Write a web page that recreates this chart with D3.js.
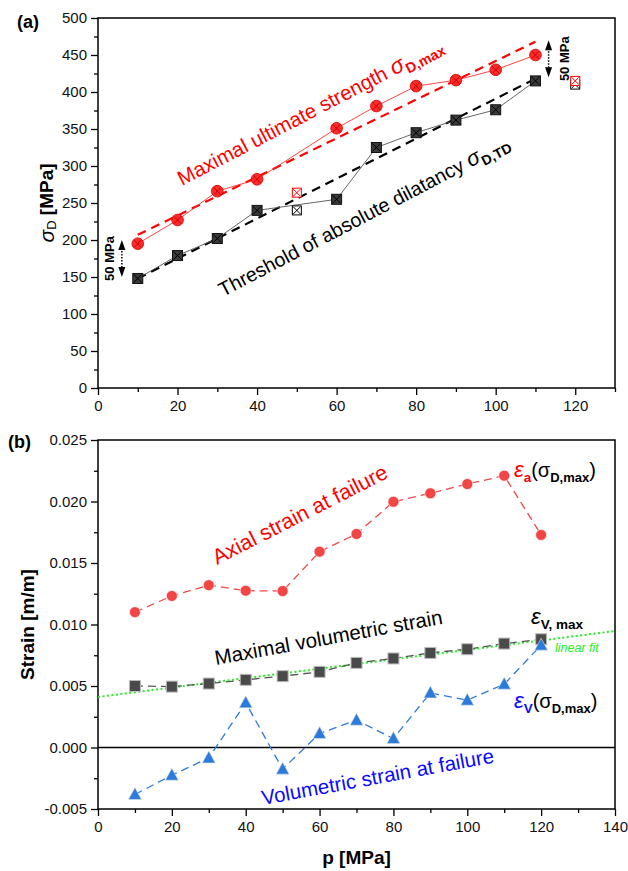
<!DOCTYPE html>
<html>
<head>
<meta charset="utf-8">
<script src="https://cdn.jsdelivr.net/npm/d3@7"></script>
<style>
  body { margin: 0; background: #fff; }
  svg { font-family: "Liberation Sans", Arial, sans-serif; }
</style>
</head>
<body>
<div id="chart"></div>
<script>
// ---- panel (a) data ----
const pMain = [10, 20, 30, 40, 60, 70, 80, 90, 100, 110];
const sigmaMax = [195, 227, 266, 282, 351, 381, 408, 416, 430, 450];
const sigmaTD = [148, 179, 202, 240, 255, 325, 345, 362, 376, 415];
const pOut = [50, 120];
const sigmaMaxOut = [264, 415];
const sigmaTDOut = [240, 410];
const fitP = [10, 110];
const fitMax = [207, 468];
const fitTD = [148, 418];
const arrowP = [6, 113.3];
const arrowLo = [150, 420];
const arrowHi = [200, 470];

// ---- panel (b) data ----
const pB = [10, 20, 30, 40, 50, 60, 70, 80, 90, 100, 110, 120];
const axialStrain = [0.0110, 0.01232, 0.0132, 0.01275, 0.01272, 0.01592, 0.01736, 0.01998, 0.02067, 0.02142, 0.0221, 0.01728];
const volMaxStrain = [0.0050, 0.00495, 0.0052, 0.0055, 0.0058, 0.00615, 0.00688, 0.00724, 0.00769, 0.00799, 0.00845, 0.0088];
const volFailStrain = [-0.00382, -0.00225, -0.00085, 0.00363, -0.00176, 0.00114, 0.00222, 0.00073, 0.00444, 0.00385, 0.00515, 0.00832];
const linFitP = [0, 140];
const linFitVals = [0.00411, 0.00947];

const width = 628, height = 871;
const svg = d3.select('#chart').append('svg')
  .attr('width', width)
  .attr('height', height);

const left = 98, right = 615;

// scales
const xA = d3.scaleLinear().domain([0, 130]).range([left, right]);
const yA = d3.scaleLinear().domain([0, 500]).range([388, 18]);
const xB = d3.scaleLinear().domain([0, 140]).range([left, right]);
const yB = d3.scaleLinear().domain([-0.005, 0.025]).range([809, 440]);

const hyphen = s => s.replace('\u2212', '-');

function frame(x, y) {
  svg.append('rect')
    .attr('x', x.range()[0]).attr('y', y.range()[1])
    .attr('width', x.range()[1] - x.range()[0])
    .attr('height', y.range()[0] - y.range()[1])
    .attr('fill', 'none').attr('stroke', '#000').attr('stroke-width', 1.5);
}

function axes(x, y, xMajor, xMinor, yMajor, yMinor, yFmt) {
  const gx = svg.append('g').attr('transform', `translate(0,${y.range()[0]})`);
  gx.call(d3.axisBottom(x).tickValues(xMinor).tickSize(4).tickFormat(''));
  gx.call(g => g.select('.domain').remove());
  const gx2 = svg.append('g').attr('transform', `translate(0,${y.range()[0]})`);
  gx2.call(d3.axisBottom(x).tickValues(xMajor).tickSize(7).tickPadding(5).tickFormat(d3.format('d')));
  gx2.select('.domain').remove();

  const gy = svg.append('g').attr('transform', `translate(${x.range()[0]},0)`);
  gy.call(d3.axisLeft(y).tickValues(yMinor).tickSize(4).tickFormat(''));
  gy.select('.domain').remove();
  const gy2 = svg.append('g').attr('transform', `translate(${x.range()[0]},0)`);
  gy2.call(d3.axisLeft(y).tickValues(yMajor).tickSize(7).tickPadding(4).tickFormat(yFmt));
  gy2.select('.domain').remove();

  svg.selectAll('.tick line').attr('stroke-width', 1.3);
  svg.selectAll('.tick text').attr('font-size', 15).attr('fill', '#111')
    .attr('font-family', '"Liberation Sans", Arial, sans-serif');
}

// ================= panel (a) =================
axes(xA, yA,
  d3.range(0, 121, 20), d3.range(10, 131, 20),
  d3.range(0, 501, 50), d3.range(25, 500, 50),
  d3.format('d'));
frame(xA, yA);

// fit lines
const fitLine = (vals) => d3.line().x((d, i) => xA(fitP[i])).y(d => yA(d))(vals);
svg.append('path').attr('d', fitLine(fitMax))
  .attr('fill', 'none').attr('stroke', '#ff0000').attr('stroke-width', 2.2)
  .attr('stroke-dasharray', '9,6');
svg.append('path').attr('d', fitLine(fitTD))
  .attr('fill', 'none').attr('stroke', '#000').attr('stroke-width', 2.2)
  .attr('stroke-dasharray', '9,6');

// data lines
const lineA = d3.line().x((d, i) => xA(pMain[i])).y(d => yA(d));
svg.append('path').attr('d', lineA(sigmaMax))
  .attr('fill', 'none').attr('stroke', '#ff3030').attr('stroke-width', 0.9);
svg.append('path').attr('d', lineA(sigmaTD))
  .attr('fill', 'none').attr('stroke', '#555').attr('stroke-width', 0.9);

function crossMark(g, cx, cy, r, color, w) {
  g.append('line').attr('x1', cx - r).attr('y1', cy - r).attr('x2', cx + r).attr('y2', cy + r)
    .attr('stroke', color).attr('stroke-width', w);
  g.append('line').attr('x1', cx - r).attr('y1', cy + r).attr('x2', cx + r).attr('y2', cy - r)
    .attr('stroke', color).attr('stroke-width', w);
}

// filled markers
const gm = svg.append('g');
sigmaTD.forEach((v, i) => {
  const cx = xA(pMain[i]), cy = yA(v);
  gm.append('rect').attr('x', cx - 5).attr('y', cy - 5).attr('width', 10).attr('height', 10)
    .attr('fill', '#3a3a3a').attr('stroke', '#111').attr('stroke-width', 1);
  crossMark(gm, cx, cy, 4, '#000', 1);
});
sigmaMax.forEach((v, i) => {
  const cx = xA(pMain[i]), cy = yA(v);
  gm.append('circle').attr('cx', cx).attr('cy', cy).attr('r', 5.8)
    .attr('fill', '#ff2a2a').attr('stroke', '#e01010').attr('stroke-width', 1);
  crossMark(gm, cx, cy, 3.7, '#c00000', 1);
});

// open outlier markers
sigmaTDOut.forEach((v, i) => {
  const cx = xA(pOut[i]), cy = yA(v);
  gm.append('rect').attr('x', cx - 4.5).attr('y', cy - 4.5).attr('width', 9).attr('height', 9)
    .attr('fill', '#fff').attr('stroke', '#000').attr('stroke-width', 1);
  crossMark(gm, cx, cy, 3.6, '#000', 1);
});
sigmaMaxOut.forEach((v, i) => {
  const cx = xA(pOut[i]), cy = yA(v);
  gm.append('rect').attr('x', cx - 4.5).attr('y', cy - 4.5).attr('width', 9).attr('height', 9)
    .attr('fill', '#fff').attr('stroke', '#ff0000').attr('stroke-width', 1);
  crossMark(gm, cx, cy, 3.6, '#ff0000', 1);
});

// 50 MPa arrows
arrowP.forEach((p, i) => {
  const x = xA(p), y0 = yA(arrowHi[i]), y1 = yA(arrowLo[i]);
  svg.append('line').attr('x1', x).attr('x2', x).attr('y1', y0 + 8).attr('y2', y1 - 8)
    .attr('stroke', '#000').attr('stroke-width', 1.5).attr('stroke-dasharray', '1.5,1.5');
  svg.append('path').attr('d', `M${x},${y0} L${x - 3.5},${y0 + 10} L${x + 3.5},${y0 + 10} Z`).attr('fill', '#000');
  svg.append('path').attr('d', `M${x},${y1} L${x - 3.5},${y1 - 10} L${x + 3.5},${y1 - 10} Z`).attr('fill', '#000');
  const tx = i === 0 ? x - 12 : x + 16;
  svg.append('text')
    .attr('transform', `translate(${tx},${(y0 + y1) / 2}) rotate(-90)`)
    .attr('text-anchor', 'middle').attr('dominant-baseline', 'central')
    .attr('font-size', 13).attr('font-weight', 'bold').text('50 MPa');
});

// rotated annotations
function sigmaText(x, y, angle, size, color, main, sub) {
  const t = svg.append('text')
    .attr('transform', `translate(${x},${y}) rotate(${angle})`)
    .attr('font-size', size).attr('fill', color);
  t.append('tspan').text(main);
  t.append('tspan').attr('font-style', 'italic').attr('font-size', size * 1.1).text('σ');
  t.append('tspan').attr('font-weight', 'bold').attr('font-size', size * 0.7).attr('dy', size * 0.25).text(sub);
}
sigmaText(182, 186, -27.5, 20.5, '#ff0000', 'Maximal ultimate strength ', 'D,max');
sigmaText(223, 297, -27.6, 19.8, '#000', 'Threshold of absolute dilatancy ', 'D,TD');

// y label (a)
const yla = svg.append('text')
  .attr('transform', `translate(46,${(18 + 388) / 2}) rotate(-90)`)
  .attr('text-anchor', 'middle').attr('dominant-baseline', 'central')
  .attr('font-size', 19).attr('font-weight', 'bold');
yla.append('tspan').attr('font-style', 'italic').attr('font-weight', 'normal').attr('font-size', 21).text('σ');
yla.append('tspan').attr('font-size', 13).attr('dy', 5).attr('font-weight', 'normal').text('D');
yla.append('tspan').attr('dy', -5).text(' [MPa]');

svg.append('text').attr('x', 17).attr('y', 28).attr('font-size', 18).attr('font-weight', 'bold').text('(a)');

// ================= panel (b) =================
axes(xB, yB,
  d3.range(0, 141, 20), d3.range(10, 140, 20),
  d3.range(-0.005, 0.0251, 0.005), d3.range(-0.0025, 0.025, 0.005),
  d => hyphen(d3.format('.3f')(Math.abs(d) < 1e-9 ? 0 : d)));
frame(xB, yB);

// zero line
svg.append('line').attr('x1', xB(0)).attr('x2', xB(140)).attr('y1', yB(0)).attr('y2', yB(0))
  .attr('stroke', '#000').attr('stroke-width', 1.5);

const lineB = d3.line().x((d, i) => xB(pB[i])).y(d => yB(d));

// linear fit
svg.append('path').attr('d', d3.line().x((d, i) => xB(linFitP[i])).y(d => yB(d))(linFitVals))
  .attr('fill', 'none').attr('stroke', '#22ee22').attr('stroke-width', 2)
  .attr('stroke-dasharray', '2,2.5');

svg.append('path').attr('d', lineB(volMaxStrain))
  .attr('fill', 'none').attr('stroke', '#555').attr('stroke-width', 1.3).attr('stroke-dasharray', '8,5');
svg.append('path').attr('d', lineB(axialStrain))
  .attr('fill', 'none').attr('stroke', '#f04848').attr('stroke-width', 1.3).attr('stroke-dasharray', '8,5');
svg.append('path').attr('d', lineB(volFailStrain))
  .attr('fill', 'none').attr('stroke', '#2b7bdc').attr('stroke-width', 1.3).attr('stroke-dasharray', '8,5');

svg.append('g').selectAll('rect').data(volMaxStrain).join('rect')
  .attr('x', (d, i) => xB(pB[i]) - 5.5).attr('y', d => yB(d) - 5.5)
  .attr('width', 11).attr('height', 11)
  .attr('fill', '#4a4a4a').attr('stroke', '#bbb').attr('stroke-width', 1);

svg.append('g').selectAll('circle').data(axialStrain).join('circle')
  .attr('cx', (d, i) => xB(pB[i])).attr('cy', d => yB(d)).attr('r', 5.5)
  .attr('fill', '#f24646').attr('stroke', '#fff').attr('stroke-width', 0.6);

svg.append('g').selectAll('path').data(volFailStrain).join('path')
  .attr('transform', (d, i) => `translate(${xB(pB[i])},${yB(d)})`)
  .attr('d', 'M0,-7 L6.5,5 L-6.5,5 Z')
  .attr('fill', '#2b7bdc').attr('stroke', '#ddd').attr('stroke-width', 0.6);

// rotated annotations (b)
function rotText(x, y, angle, size, color, s) {
  svg.append('text').attr('transform', `translate(${x},${y}) rotate(${angle})`)
    .attr('font-size', size).attr('fill', color).text(s);
}
rotText(217, 565, -27, 21.5, '#ff0000', 'Axial strain at failure');
rotText(216, 665, -10.3, 20.5, '#000', 'Maximal volumetric strain');
rotText(263, 805, -10.4, 20.5, '#0a0aff', 'Volumetric strain at failure');

svg.append('text').attr('x', 555).attr('y', 652).attr('font-size', 12.5)
  .attr('font-style', 'italic').attr('fill', '#22ee22').text('linear fit');

// epsilon labels
function epsLabel(x, y, epsColor, sub, tail) {
  const t = svg.append('text').attr('x', x).attr('y', y).attr('font-size', 20);
  t.append('tspan').attr('font-style', 'italic').attr('fill', epsColor).attr('font-size', 22).text('ε');
  t.append('tspan').attr('font-size', 13.5).attr('font-weight', 'bold').attr('dy', 5).attr('fill', epsColor).text(sub);
  if (tail) {
    t.append('tspan').attr('dy', -5).attr('fill', '#000').text('(σ');
    t.append('tspan').attr('font-size', 13).attr('font-weight', 'bold').attr('dy', 5).text('D,max');
    t.append('tspan').attr('dy', -5).text(')');
  }
}
epsLabel(514, 477, '#ff0000', 'a', true);
epsLabel(531, 624, '#000', 'V, max', false);
epsLabel(514, 708, '#0a0aff', 'V', true);

// y label (b)
svg.append('text')
  .attr('transform', `translate(27,${(440 + 809) / 2}) rotate(-90)`)
  .attr('text-anchor', 'middle').attr('dominant-baseline', 'central')
  .attr('font-size', 19).attr('font-weight', 'bold').text('Strain [m/m]');

// x label
svg.append('text').attr('x', (left + right) / 2).attr('y', 864)
  .attr('text-anchor', 'middle').attr('font-size', 19).attr('font-weight', 'bold').text('p [MPa]');

svg.append('text').attr('x', 8).attr('y', 448).attr('font-size', 18).attr('font-weight', 'bold').text('(b)');
</script>
</body>
</html>
